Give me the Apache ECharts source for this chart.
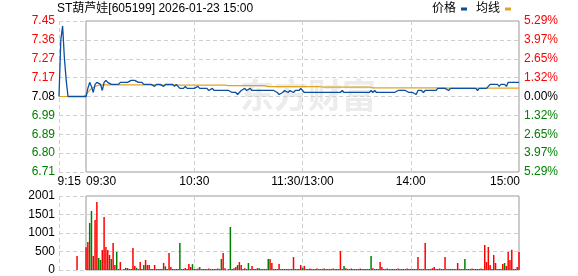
<!DOCTYPE html>
<html><head><meta charset="utf-8">
<script src="https://cdn.jsdelivr.net/npm/echarts@6/dist/echarts.min.js"></script>
<style>html,body{margin:0;padding:0;background:#fff}#c{width:578px;height:276px}</style>
</head><body><div id="c"></div>
<script>
const chartTitle = 'ST葫芦娃[605199] 2026-01-23 15:00';
const legendNames = ['价格', '均线'];
const basePrice = 7.08;
const pctLimit = 5.29;
const priceTicks = ['6.71','6.80','6.89','6.99','7.08','7.17','7.27','7.36','7.45'];
const pctTicks = ['5.29%','3.97%','2.65%','1.32%','0.00%','1.32%','2.65%','3.97%','5.29%'];
const volMax = 2001;
const volTicks = ['0','500','1001','1501','2001'];
const tickTimes = ['09:15','09:30','10:30','11:30','14:00','15:00'];
const tickTexts = ['9:15','09:30','10:30','11:30/13:00','14:00','15:00'];

// pre-market 9:15 - 9:29
const prePrice = [7.08,7.36,7.43,7.27,7.16,7.08,7.08,7.08,7.08,7.08,7.08,7.08,7.08,7.08,7.08];
const preAvg   = [7.08,7.08,7.08,7.08,7.08,7.08,7.08,7.08,7.08,7.08,7.08,7.08,7.08,7.08,7.08];
const preVol   = [0,0,0,0,0,0,0,0,0,0,378,0,0,0,0];
const preUp    = [1,1,1,1,1,1,1,1,1,1,1,1,1,1,1];

// session 9:30 - 11:30, 13:01 - 15:00
const price = [
7.08,7.12,7.15,7.13,7.10,7.14,7.15,7.15,7.14,7.11,
7.15,7.16,7.15,7.15,7.14,7.14,7.14,7.14,7.14,7.15,
7.15,7.15,7.15,7.15,7.15,7.16,7.16,7.16,7.16,7.15,
7.15,7.15,7.14,7.14,7.14,7.14,7.14,7.14,7.13,7.14,
7.14,7.14,7.14,7.13,7.14,7.14,7.14,7.14,7.14,7.13,
7.14,7.13,7.12,7.12,7.12,7.13,7.12,7.12,7.12,7.12,
7.12,7.12,7.13,7.12,7.12,7.12,7.12,7.12,7.11,7.11,
7.12,7.11,7.11,7.11,7.11,7.11,7.11,7.11,7.11,7.11,
7.11,7.10,7.10,7.10,7.09,7.10,7.11,7.11,7.12,7.11,
7.11,7.12,7.11,7.11,7.11,7.11,7.11,7.11,7.11,7.11,
7.11,7.11,7.11,7.11,7.11,7.11,7.10,7.09,7.09,7.10,
7.11,7.11,7.10,7.11,7.11,7.10,7.11,7.11,7.11,7.12,
7.12,7.10,7.10,7.10,7.10,7.10,7.10,7.10,7.10,7.10,
7.10,7.10,7.10,7.10,7.10,7.10,7.10,7.10,7.10,7.10,
7.10,7.10,7.11,7.10,7.10,7.10,7.10,7.10,7.10,7.10,
7.10,7.10,7.10,7.10,7.10,7.10,7.10,7.10,7.11,7.10,
7.11,7.10,7.10,7.10,7.10,7.10,7.10,7.10,7.10,7.10,
7.10,7.10,7.10,7.11,7.11,7.11,7.11,7.11,7.11,7.10,
7.10,7.10,7.10,7.09,7.11,7.11,7.11,7.10,7.11,7.11,
7.11,7.11,7.11,7.11,7.11,7.12,7.12,7.12,7.12,7.12,
7.12,7.11,7.12,7.12,7.12,7.12,7.12,7.12,7.12,7.12,
7.12,7.12,7.12,7.12,7.12,7.12,7.12,7.11,7.12,7.12,
7.12,7.12,7.12,7.13,7.14,7.14,7.14,7.14,7.14,7.13,
7.14,7.14,7.14,7.13,7.15,7.15,7.15,7.15,7.15,7.15,
7.15];

const avg = [
7.08,7.10,7.11,7.12,7.125,7.13,7.134,7.136,7.138,7.138,
7.138,7.138,7.138,7.138,7.138,7.138,7.138,7.138,7.138,7.138,
7.138,7.138,7.138,7.138,7.138,7.138,7.138,7.138,7.138,7.138,
7.138,7.138,7.138,7.138,7.138,7.138,7.138,7.138,7.138,7.138,
7.138,7.136,7.136,7.136,7.136,7.136,7.136,7.136,7.136,7.136,
7.136,7.136,7.136,7.136,7.136,7.136,7.136,7.136,7.136,7.136,
7.136,7.136,7.136,7.136,7.136,7.136,7.136,7.136,7.136,7.136,
7.136,7.136,7.136,7.136,7.136,7.136,7.136,7.136,7.134,7.134,
7.134,7.134,7.134,7.134,7.134,7.134,7.134,7.134,7.134,7.134,
7.134,7.134,7.134,7.134,7.134,7.134,7.134,7.134,7.134,7.134,
7.134,7.129,7.129,7.129,7.129,7.129,7.129,7.129,7.129,7.129,
7.129,7.129,7.129,7.129,7.129,7.129,7.129,7.129,7.129,7.129,
7.129,7.129,7.129,7.129,7.129,7.129,7.129,7.129,7.129,7.129,
7.129,7.127,7.127,7.127,7.127,7.127,7.127,7.127,7.127,7.127,
7.127,7.127,7.127,7.127,7.127,7.127,7.127,7.127,7.127,7.127,
7.127,7.127,7.127,7.127,7.127,7.127,7.127,7.127,7.123,7.123,
7.123,7.123,7.123,7.123,7.123,7.123,7.123,7.123,7.123,7.123,
7.123,7.123,7.123,7.123,7.123,7.123,7.123,7.123,7.123,7.123,
7.123,7.123,7.123,7.123,7.123,7.123,7.123,7.123,7.123,7.123,
7.123,7.123,7.123,7.123,7.123,7.123,7.123,7.123,7.123,7.123,
7.123,7.122,7.122,7.122,7.122,7.122,7.122,7.122,7.122,7.122,
7.122,7.122,7.122,7.122,7.122,7.122,7.122,7.122,7.122,7.122,
7.122,7.122,7.122,7.122,7.122,7.122,7.122,7.122,7.122,7.122,
7.122,7.122,7.122,7.122,7.122,7.122,7.122,7.122,7.122,7.122,
7.122];

const vol = [
613,757,1271,1595,378,1352,1839,324,270,540,
1433,622,540,405,297,730,135,487,27,216,
0,27,60,54,27,27,595,108,60,27,
216,27,135,270,135,135,27,27,135,27,
27,27,27,189,100,27,460,80,27,27,
27,27,730,27,27,54,27,162,81,160,
27,27,40,80,27,27,27,27,40,27,
27,27,27,40,27,297,459,50,0,27,
1162,27,50,80,135,216,135,27,50,27,
190,27,110,27,27,50,50,27,27,27,
27,297,297,190,27,27,27,160,27,27,
27,27,27,27,27,351,27,27,27,135,
60,110,27,27,40,27,27,27,40,27,
27,27,40,27,27,27,27,40,27,27,
27,513,27,110,50,27,27,40,27,27,
27,27,40,27,27,27,27,27,378,50,
27,27,27,216,80,27,27,40,27,27,
27,27,27,40,27,27,27,27,40,27,
27,27,27,27,351,27,27,27,730,27,
27,27,50,80,27,27,40,27,27,351,
27,27,30,27,27,27,190,27,27,27,
297,27,27,27,40,27,27,27,27,40,
27,676,216,622,135,27,405,190,27,27,
27,160,190,110,486,270,549,27,27,80,
486];

const up = [
1,1,0,0,1,1,1,0,0,1,
1,1,1,1,0,1,1,0,1,1,
1,1,0,1,1,1,1,1,0,1,
1,1,0,1,1,1,0,1,1,1,
1,1,1,1,0,1,1,1,0,1,
0,1,0,0,1,1,1,1,1,0,
1,1,1,0,1,1,1,1,1,1,
1,1,1,1,1,0,1,1,1,1,
0,1,1,1,0,1,1,1,1,1,
0,1,1,1,1,1,0,1,1,1,
0,0,1,1,1,1,1,1,1,1,
1,1,1,1,1,1,1,1,1,1,
0,1,1,1,1,1,1,1,1,1,
1,1,1,1,1,1,1,1,1,1,
1,1,1,0,1,1,1,1,1,1,
1,1,1,1,1,1,1,1,0,1,
1,1,1,1,1,1,1,1,1,1,
1,1,1,1,1,1,1,1,1,1,
1,1,1,1,1,1,1,1,1,1,
1,1,1,1,1,1,1,1,1,1,
1,1,0,1,1,1,1,1,1,1,
0,1,1,1,1,1,1,1,1,1,
1,1,1,1,1,1,1,1,1,1,
1,1,0,1,1,1,1,1,1,1,
1];

function buildTimes() {
  const t = [];
  const add = (x) => t.push(String(Math.floor(x / 60)).padStart(2, '0') + ':' + String(x % 60).padStart(2, '0'));
  for (let x = 9 * 60 + 15; x < 9 * 60 + 30; x++) add(x);
  for (let x = 9 * 60 + 30; x <= 11 * 60 + 30; x++) add(x);
  for (let x = 13 * 60 + 1; x <= 15 * 60; x++) add(x);
  return t;
}
const times = buildTimes();
const tickIdx = tickTimes.map(t => times.indexOf(t));
const splitIdx = [tickIdx[0], tickIdx[2], tickIdx[3], tickIdx[4]];

const allPrice = prePrice.concat(price);
const allAvg = preAvg.concat(avg);
const allVol = preVol.concat(vol);
const allUp = preUp.concat(up);
const toPct = p => (p - basePrice) / basePrice * 100;

const RED = '#ff0000', GREEN = '#008000', BLUE = '#0b4f9f', ORANGE = '#e2a41e';
const FONT = "'Liberation Sans', 'Noto Sans CJK SC', sans-serif";
const pInterval = (2 * pctLimit) / 8;
const tickIndexOf = v => Math.round((v + pctLimit) / pInterval);
const dash = { color: '#cfcfcf', type: [4, 3], width: 1 };
const labelRich = {
  r: { color: RED, fontSize: 12, fontFamily: FONT },
  g: { color: GREEN, fontSize: 12, fontFamily: FONT },
  k: { color: '#000', fontSize: 12, fontFamily: FONT }
};
const colorKey = i => (i > 4 ? 'r' : (i < 4 ? 'g' : 'k'));

const chart = echarts.init(document.getElementById('c'));
chart.setOption({
  animation: false,
  backgroundColor: '#fff',
  title: {
    text: chartTitle, left: 57, top: 3, padding: 0,
    textStyle: { fontSize: 12, fontWeight: 'normal', color: '#000', fontFamily: FONT }
  },
  legend: {
    data: legendNames, left: 432, top: 3, padding: 0, align: 'right',
    icon: 'rect', itemWidth: 6, itemHeight: 3, itemGap: 9,
    textStyle: { fontSize: 12, color: '#000', fontFamily: FONT }
  },
  graphic: [{
    type: 'text', left: 240, top: 78, z: 0, silent: true,
    style: { text: '东方财富', fontSize: 34, fontWeight: 'bold', fill: '#ececec', fontFamily: "'Noto Sans CJK SC', sans-serif" }
  }],
  grid: [
    { left: 59, top: 21, width: 460, height: 151, show: false },
    { left: 59, top: 196, width: 460, height: 74, show: false },
    { left: 86, top: 21, width: 433, height: 151, show: true, borderColor: '#999', borderWidth: 1, backgroundColor: 'transparent' },
    { left: 86, top: 196, width: 433, height: 74, show: true, borderColor: '#999', borderWidth: 1, backgroundColor: 'transparent' }
  ],
  xAxis: [
    {
      type: 'category', gridIndex: 0, data: times, boundaryGap: false,
      axisLine: { show: false }, axisTick: { show: false },
      axisLabel: {
        margin: 4, fontSize: 12, color: '#000', fontFamily: FONT,
        interval: (i) => tickIdx.includes(i),
        formatter: (val, i) => {
          const k = tickTimes.indexOf(val);
          if (k < 0) return '';
          if (k === 0) return '{a|' + tickTexts[k] + '}';
          if (k === 1) return '{b|' + tickTexts[k] + '}';
          if (k === tickTimes.length - 1) return '{c|' + tickTexts[k] + '}';
          return tickTexts[k];
        },
        rich: {
          a: { width: 3, align: 'left', fontSize: 12, color: '#000', fontFamily: FONT },
          b: { width: 60, align: 'right', fontSize: 12, color: '#000', fontFamily: FONT },
          c: { width: 2, align: 'right', fontSize: 12, color: '#000', fontFamily: FONT }
        }
      },
      splitLine: { show: true, interval: (i) => splitIdx.includes(i), lineStyle: dash }
    },
    {
      type: 'category', gridIndex: 1, data: times, boundaryGap: false,
      axisLine: { show: false }, axisTick: { show: false }, axisLabel: { show: false },
      splitLine: { show: true, interval: (i) => splitIdx.includes(i), lineStyle: dash }
    },
    { type: 'value', gridIndex: 2, show: false, min: 0, max: 1, splitLine: { show: false } },
    { type: 'value', gridIndex: 3, show: false, min: 0, max: 1, splitLine: { show: false } }
  ],
  yAxis: [
    {
      type: 'value', gridIndex: 0, position: 'left', min: -pctLimit, max: pctLimit, interval: pInterval,
      axisLine: { show: false }, axisTick: { show: false },
      axisLabel: {
        margin: 4, fontFamily: FONT, fontSize: 12, rich: labelRich,
        formatter: (v) => { const i = tickIndexOf(v); return '{' + colorKey(i) + '|' + priceTicks[i] + '}'; }
      },
      splitLine: { show: true, lineStyle: dash }
    },
    {
      type: 'value', gridIndex: 0, position: 'right', min: -pctLimit, max: pctLimit, interval: pInterval,
      axisLine: { show: false }, axisTick: { show: false },
      axisLabel: {
        margin: 5, fontFamily: FONT, fontSize: 12, rich: labelRich,
        formatter: (v) => { const i = tickIndexOf(v); return '{' + colorKey(i) + '|' + pctTicks[i] + '}'; }
      },
      splitLine: { show: false }
    },
    {
      type: 'value', gridIndex: 1, min: 0, max: volMax, interval: volMax / 4,
      axisLine: { show: false }, axisTick: { show: false },
      axisLabel: {
        margin: 4, fontFamily: FONT, fontSize: 12, color: '#000',
        formatter: (v) => volTicks[Math.round(v / (volMax / 4))]
      },
      splitLine: { show: true, lineStyle: dash }
    },
    { type: 'value', gridIndex: 2, show: false, min: 0, max: 1, splitLine: { show: false } },
    { type: 'value', gridIndex: 3, show: false, min: 0, max: 1, splitLine: { show: false } }
  ],
  series: [
    {
      name: legendNames[1], type: 'line', xAxisIndex: 0, yAxisIndex: 0, symbol: 'none',
      data: allAvg.map(toPct), lineStyle: { color: ORANGE, width: 1.2 }, itemStyle: { color: ORANGE }, z: 3
    },
    {
      name: legendNames[0], type: 'line', xAxisIndex: 0, yAxisIndex: 0, symbol: 'none',
      data: allPrice.map(toPct), lineStyle: { color: BLUE, width: 1.3 }, itemStyle: { color: BLUE }, z: 4
    },
    {
      name: 'vol', type: 'bar', xAxisIndex: 1, yAxisIndex: 2, barWidth: 1.5,
      data: allVol.map((v, i) => ({ value: v, itemStyle: { color: allUp[i] ? RED : GREEN } }))
    }
  ]
});
</script>
</body></html>
